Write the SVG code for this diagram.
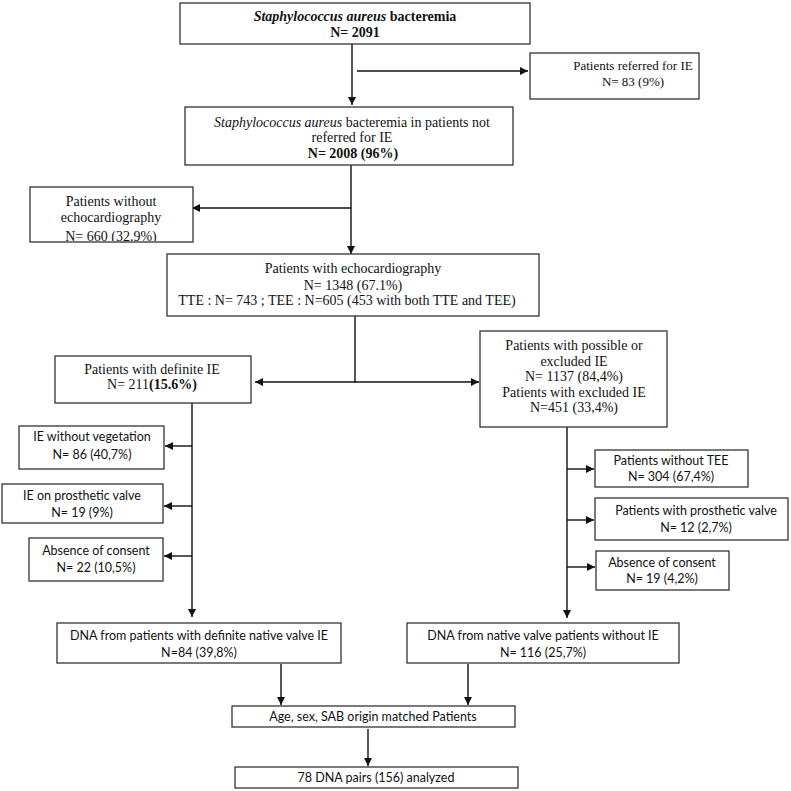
<svg xmlns="http://www.w3.org/2000/svg" width="791" height="791" viewBox="0 0 791 791">
<style>
.box{fill:#fff;stroke:#333;stroke-width:1.3}
.serif{font-family:"Liberation Serif","Times New Roman",serif;font-size:14px;fill:#111;text-anchor:middle}
.sm{font-size:13px}
.sans{font-family:Lato,"Open Sans","Liberation Sans",sans-serif;font-size:12.5px;fill:#111;text-anchor:middle}
.b{font-weight:bold}
.i{font-style:italic}
.conn{fill:none;stroke:#111;stroke-width:1.4}
</style>
<defs>
<marker id="ah" viewBox="0 0 10 10" refX="10" refY="5" markerWidth="8" markerHeight="8" markerUnits="userSpaceOnUse" orient="auto">
<path d="M0,0 L10,5 L0,10 z" fill="#111"/>
</marker>
<clipPath id="clipNoEcho"><rect x="30" y="187" width="163" height="54"/></clipPath>
</defs>
<rect width="791" height="791" fill="#fff"/>

<g id="connectors" class="conn" marker-end="url(#ah)">
<path d="M352,44 V105"/>
<path d="M357,71 H528"/>
<path d="M351,165 V254"/>
<path d="M351,208 H192"/>
<path d="M355,316 V382 H255" />
<path d="M355,382 H479"/>
<path d="M192,403 V617"/>
<path d="M192,446 H165"/>
<path d="M192,506 H164"/>
<path d="M192,556 H164"/>
<path d="M567,427 V618"/>
<path d="M567,469 H594"/>
<path d="M567,520 H594"/>
<path d="M567,567 H595"/>
<path d="M281,664 V705"/>
<path d="M468,664 V705"/>
<path d="M368,729 V766"/>
</g>

<g id="n-sab">
<rect class="box" x="180" y="3" width="350" height="41"/>
<text class="serif b" x="355" y="21"><tspan class="i">Staphylococcus aureus</tspan> bacteremia</text>
<text class="serif b" x="355" y="37">N= 2091</text>
</g>

<g id="n-referred">
<rect class="box" x="530" y="53" width="169" height="46"/>
<text class="serif sm" x="633" y="70">Patients referred for IE</text>
<text class="serif sm" x="633" y="86">N= 83 (9%)</text>
</g>

<g id="n-notreferred">
<rect class="box" x="185" y="107" width="328" height="58"/>
<text class="serif" x="352" y="127"><tspan class="i">Staphylococcus aureus</tspan> bacteremia in patients not</text>
<text class="serif" x="352" y="142">referred for IE</text>
<text class="serif b" x="353" y="158">N= 2008 (96%)</text>
</g>

<g id="n-noecho">
<rect class="box" x="30" y="187" width="163" height="55"/>
<g clip-path="url(#clipNoEcho)">
<text class="serif" x="111" y="206">Patients without</text>
<text class="serif" x="111" y="222">echocardiography</text>
<text class="serif" x="111" y="241">N= 660 (32.9%)</text>
</g>
</g>

<g id="n-echo">
<rect class="box" x="167" y="254" width="372" height="62"/>
<text class="serif" x="353" y="273">Patients with echocardiography</text>
<text class="serif" x="353" y="290">N= 1348 (67.1%)</text>
<text class="serif" x="347" y="305">TTE : N= 743 ; TEE : N=605 (453 with both TTE and TEE)</text>
</g>

<g id="n-definite">
<rect class="box" x="55" y="356" width="196" height="47"/>
<text class="serif" x="152" y="374">Patients with definite IE</text>
<text class="serif" x="152" y="389">N= 211<tspan class="b">(15.6%)</tspan></text>
</g>

<g id="n-possible">
<rect class="box" x="480" y="331" width="187" height="96"/>
<text class="serif" x="574" y="350">Patients with possible or</text>
<text class="serif" x="574" y="366">excluded IE</text>
<text class="serif" x="574" y="381">N= 1137 (84,4%)</text>
<text class="serif" x="574" y="397">Patients with excluded IE</text>
<text class="serif" x="574" y="412">N=451 (33,4%)</text>
</g>

<g id="n-noveg">
<rect class="box" x="19" y="426" width="145" height="43"/>
<text class="sans" x="92" y="441">IE without vegetation</text>
<text class="sans" x="92" y="459">N= 86 (40,7%)</text>
</g>

<g id="n-prostheticL">
<rect class="box" x="2" y="484" width="161" height="39"/>
<text class="sans" x="82" y="500">IE on prosthetic valve</text>
<text class="sans" x="82" y="517">N= 19 (9%)</text>
</g>

<g id="n-consentL">
<rect class="box" x="29" y="538" width="134" height="43"/>
<text class="sans" x="96" y="555">Absence of consent</text>
<text class="sans" x="96" y="572">N= 22 (10,5%)</text>
</g>

<g id="n-notee">
<rect class="box" x="595" y="450" width="153" height="37"/>
<text class="sans" x="671" y="465">Patients without TEE</text>
<text class="sans" x="671" y="481">N= 304 (67,4%)</text>
</g>

<g id="n-prostheticR">
<rect class="box" x="595" y="498" width="193" height="42"/>
<text class="sans" x="696" y="515">Patients with prosthetic valve</text>
<text class="sans" x="696" y="532">N= 12 (2,7%)</text>
</g>

<g id="n-consentR">
<rect class="box" x="596" y="551" width="133" height="39"/>
<text class="sans" x="662" y="567">Absence of consent</text>
<text class="sans" x="662" y="583">N= 19 (4,2%)</text>
</g>

<g id="n-dnaIE">
<rect class="box" x="57" y="623" width="284" height="40"/>
<text class="sans" x="199" y="640">DNA from patients with definite native valve IE</text>
<text class="sans" x="199" y="657">N=84 (39,8%)</text>
</g>

<g id="n-dnaNoIE">
<rect class="box" x="407" y="623" width="272" height="40"/>
<text class="sans" x="543" y="640">DNA from native valve patients without IE</text>
<text class="sans" x="543" y="657">N= 116 (25,7%)</text>
</g>

<g id="n-matched">
<rect class="box" x="232" y="706" width="283" height="21"/>
<text class="sans" x="373" y="721">Age, sex, SAB origin matched Patients</text>
</g>

<g id="n-pairs">
<rect class="box" x="235" y="767" width="283" height="21"/>
<text class="sans" x="376" y="782">78 DNA pairs (156) analyzed</text>
</g>
</svg>
